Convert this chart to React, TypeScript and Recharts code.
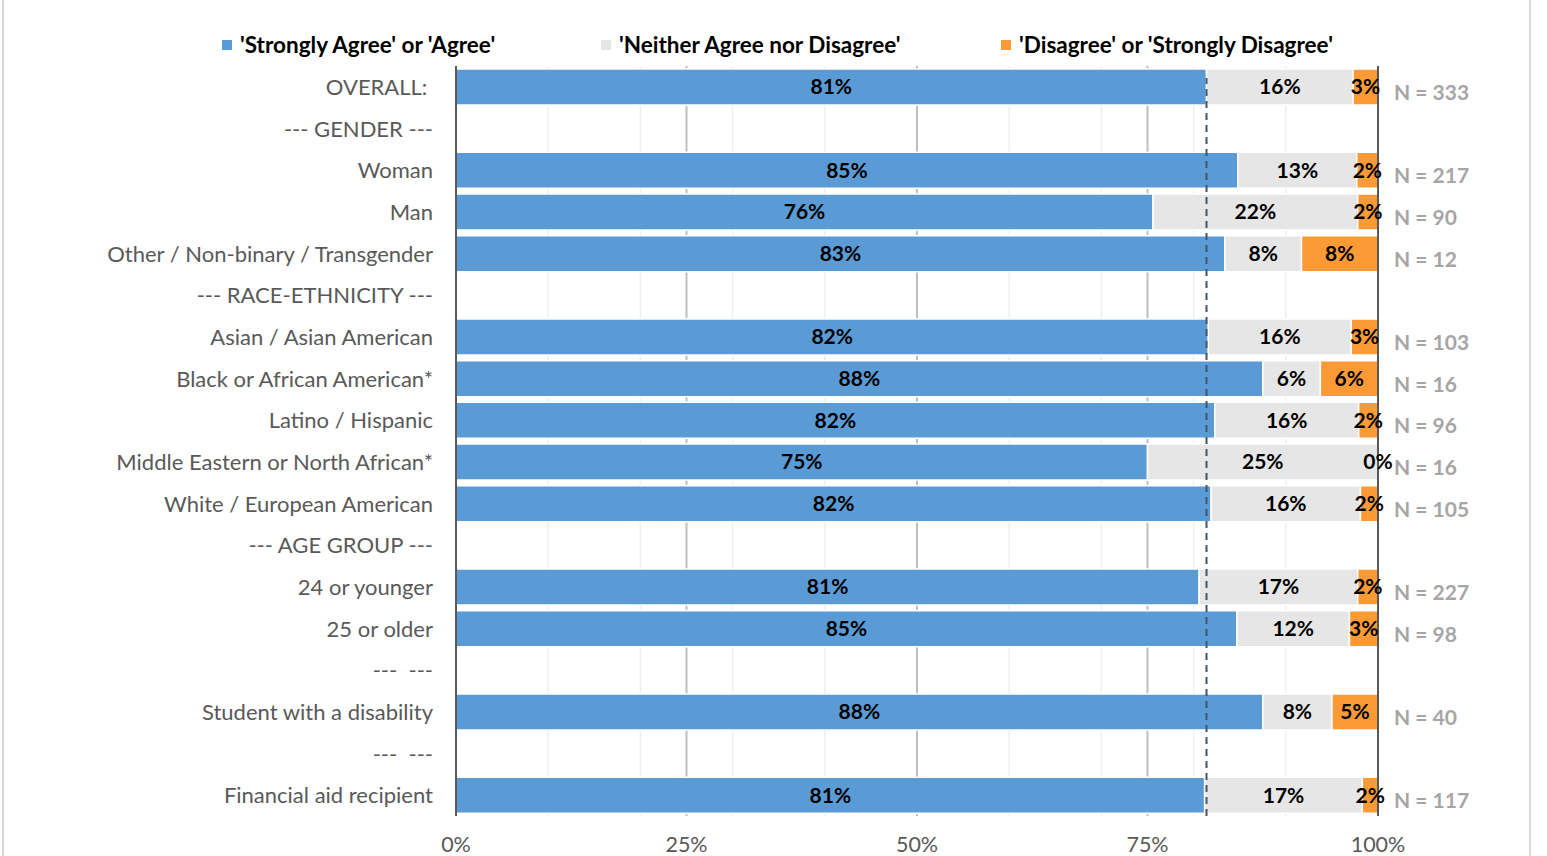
import React from "react";
import { BarChart, Bar, XAxis, YAxis, LabelList, ReferenceLine, CartesianGrid } from "recharts";

const categories = [
  "OVERALL: ",
  "--- GENDER ---",
  "Woman",
  "Man",
  "Other / Non-binary / Transgender",
  "--- RACE-ETHNICITY ---",
  "Asian / Asian American",
  "Black or African American*",
  "Latino / Hispanic",
  "Middle Eastern or North African*",
  "White / European American",
  "--- AGE GROUP ---",
  "24 or younger",
  "25 or older",
  "---  ---",
  "Student with a disability",
  "---  ---",
  "Financial aid recipient",
];

const agree = [81.4, null, 84.8, 75.6, 83.4, null, 81.6, 87.5, 82.3, 75.0, 81.9, null, 80.6, 84.7, null, 87.5, null, 81.2];
const neutral = [15.9, null, 12.9, 22.2, 8.3, null, 15.5, 6.25, 15.6, 25.0, 16.2, null, 17.2, 12.2, null, 7.5, null, 17.1];
const disagree = [2.7, null, 2.3, 2.2, 8.3, null, 2.9, 6.25, 2.1, 0, 1.9, null, 2.2, 3.1, null, 5.0, null, 1.7];
const counts = [333, null, 217, 90, 12, null, 103, 16, 96, 16, 105, null, 227, 98, null, 40, null, 117];

const xTicks = [0, 25, 50, 75, 100];
const minorGrid = [10, 20, 30, 40, 60, 70, 80, 90];
const majorGrid = [25, 50, 75];

const seriesNames = ["'Strongly Agree' or 'Agree'", "'Neither Agree nor Disagree'", "'Disagree' or 'Strongly Disagree'"];
const colors = ["#5b9bd5", "#e7e6e6", "#fc9a36"];

const data = categories.map((c, i) => ({
  key: `row${i}`,
  label: c,
  agree: agree[i],
  neutral: neutral[i],
  disagree: disagree[i],
  n: counts[i],
}));

const FONT = "Lato, 'Open Sans', sans-serif";

const pct = (v: any) => (v == null ? "" : `${Math.round(Number(v))}%`);

const YTick = (props: any) => {
  const { x, y, payload } = props;
  const label = categories[payload.index] ?? "";
  return (
    <text x={x - 15} y={y} dy={8} textAnchor="end" fill="#595959" fontSize={22} fontFamily={FONT} style={{ whiteSpace: "pre" }}>
      {label}
    </text>
  );
};

const NTick = (props: any) => {
  const { x, y, payload } = props;
  const n = counts[payload.index];
  if (n == null) return null;
  return (
    <text x={x + 8} y={y} dy={13} textAnchor="start" fill="#a6a6a6" fontSize={21} fontWeight={700} fontFamily={FONT}>
      {`N = ${n}`}
    </text>
  );
};

const XTick = (props: any) => {
  const { x, y, payload } = props;
  return (
    <text x={x} y={y} dy={28} textAnchor="middle" fill="#595959" fontSize={21.5} fontFamily={FONT}>
      {`${payload.value}%`}
    </text>
  );
};

// Renders the label of a zero-width "disagree" segment at the right end of the neutral segment
const ZeroLabel = (props: any) => {
  const { value } = props;
  if (value !== 0) return null;
  const vb = props.viewBox || {};
  const bx = props.x ?? vb.x;
  const by = props.y ?? vb.y;
  const bw = props.width ?? vb.width ?? 0;
  const bh = props.height ?? vb.height ?? 0;
  return (
    <text x={bx + bw} y={by + bh / 2} dy={7} textAnchor="middle" fill="#000" fontSize={21} fontWeight={700} fontFamily={FONT}>
      {pct(value)}
    </text>
  );
};

const LegendBlock = () => {
  const xs = [222, 601, 1001];
  return (
    <>
      {seriesNames.map((name, i) => (
        <div key={name} style={{ position: "absolute", left: xs[i], top: 31, display: "flex", alignItems: "center", whiteSpace: "nowrap", fontFamily: FONT }}>
          <span style={{ display: "inline-block", width: 10, height: 10, background: colors[i], marginRight: 8 }} />
          <span style={{ fontSize: 22.5, fontWeight: 700, color: "#000", lineHeight: "28px" }}>{name}</span>
        </div>
      ))}
    </>
  );
};

const DashedShape = (props: any) => {
  const { x1, y1, x2, y2 } = props;
  return <line x1={x1} y1={y1} x2={x2} y2={y2 + 12} stroke="#44546a" strokeWidth={2} strokeDasharray="7 5" />;
};

const gridGen = (values: number[]) => (args: any) => {
  const { xAxis, offset } = args || {};
  if (xAxis && typeof xAxis.scale === "function") return values.map((v) => xAxis.scale(v));
  return values.map((v) => offset.left + (offset.width * v) / 100);
};

export default function App() {
  return (
    <div style={{ position: "absolute", left: 0, top: 0, width: 1547, height: 856, background: "#fff", overflow: "hidden" }}>
      <div style={{ position: "absolute", left: 2, top: 0, width: 2, height: 856, background: "#d9d9d9" }} />
      <div style={{ position: "absolute", left: 1529, top: 0, width: 2, height: 856, background: "#d9d9d9" }} />
      <LegendBlock />
      <BarChart
        width={1547}
        height={856}
        layout="vertical"
        data={data}
        margin={{ top: 66, right: 0, bottom: 10, left: 0 }}
        barSize={36}
      >
        <CartesianGrid horizontal={false} stroke="#efefef" strokeWidth={1.5} verticalCoordinatesGenerator={gridGen(minorGrid)} />
        <CartesianGrid horizontal={false} stroke="#bfbfbf" strokeWidth={2} verticalCoordinatesGenerator={gridGen(majorGrid)} />
        <XAxis type="number" domain={[0, 100]} ticks={xTicks} height={30} axisLine={false} tickLine={false} tick={<XTick />} interval={0} />
        <YAxis
          type="category"
          dataKey="key"
          width={456}
          interval={0}
          tickLine={false}
          axisLine={{ stroke: "#595959", strokeWidth: 2 }}
          tick={<YTick />}
        />
        <YAxis
          yAxisId="n"
          orientation="right"
          type="category"
          dataKey="key"
          width={169}
          interval={0}
          tickLine={false}
          axisLine={false}
          tick={<NTick />}
        />
        <Bar dataKey="agree" stackId="a" fill={colors[0]} stroke="#fff" strokeWidth={1.5} isAnimationActive={false}>
          <LabelList dataKey="agree" position="center" formatter={pct} fill="#000" fontSize={21} fontWeight={700} fontFamily={FONT} />
        </Bar>
        <Bar dataKey="neutral" stackId="a" fill={colors[1]} stroke="#fff" strokeWidth={1.5} isAnimationActive={false}>
          <LabelList dataKey="neutral" position="center" formatter={pct} fill="#000" fontSize={21} fontWeight={700} fontFamily={FONT} />
          <LabelList dataKey="disagree" content={<ZeroLabel />} />
        </Bar>
        <Bar dataKey="disagree" stackId="a" fill={colors[2]} stroke="#fff" strokeWidth={1.5} isAnimationActive={false}>
          <LabelList dataKey="disagree" position="center" formatter={pct} fill="#000" fontSize={21} fontWeight={700} fontFamily={FONT} />
        </Bar>
        <ReferenceLine x={agree[0] as number} shape={<DashedShape />} />
        <ReferenceLine x={100} stroke="#595959" strokeWidth={2} />
      </BarChart>
    </div>
  );
}
